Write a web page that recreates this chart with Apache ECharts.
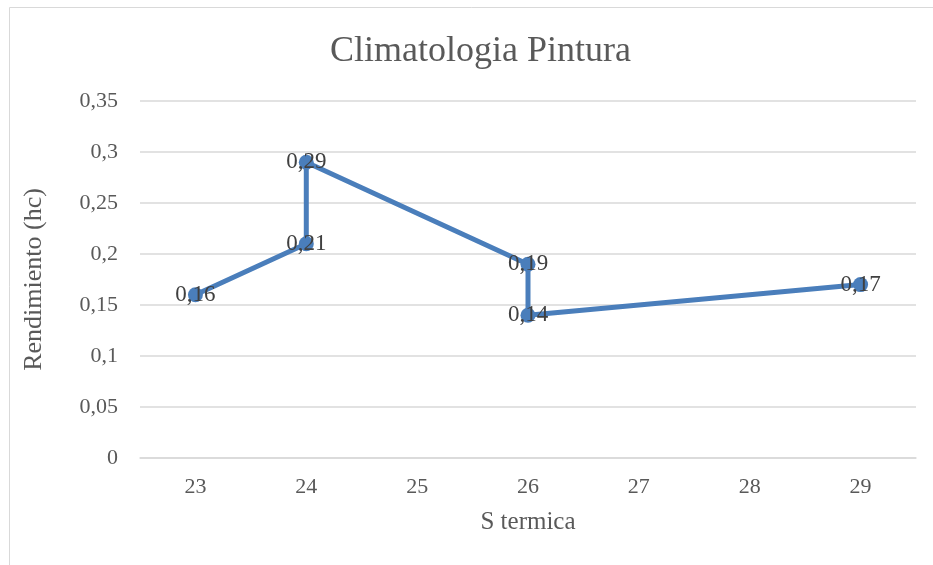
<!DOCTYPE html>
<html>
<head>
<meta charset="utf-8">
<script src="https://cdn.jsdelivr.net/npm/echarts@6/dist/echarts.min.js"></script>
<style>
 html,body{margin:0;padding:0;background:#fff;}
 #container{width:933px;height:565px;}
</style>
</head>
<body>
<div id="container"></div>
<script>
 var categories=['23','24','25','26','27','28','29'];
 var xvals=['23','24','24','26','26','29'];
 var yvals=[0.16,0.21,0.29,0.19,0.14,0.17];

 var coma=function(v){return String(v).replace('.',',');};
 var pts=xvals.map(function(x,i){return [x,yvals[i]];});

 var dom=document.getElementById("container");
 var myChart=echarts.init(dom);
 var option={
	backgroundColor:'#fff',
	textStyle:{fontFamily:'"Liberation Serif", serif'},
	title:{
		text:'Climatologia Pintura',left:325,top:29,
		textStyle:{fontFamily:'"Liberation Serif", serif',fontSize:36,fontWeight:'normal',color:'#595959'}
	},
	graphic:[{type:'rect',shape:{x:9.5,y:7.5,width:1000,height:1000},style:{fill:'none',stroke:'#d9d9d9',lineWidth:1},silent:true}],
	grid:{left:140,right:17,top:101,bottom:107},
	xAxis:{
		type:'category',data:categories,boundaryGap:true,
		name:'S termica',nameLocation:'middle',nameGap:52,
		nameTextStyle:{fontSize:25,color:'#595959',fontFamily:'"Liberation Serif", serif'},
		axisLine:{lineStyle:{color:'#d9d9d9',width:1.5}},
		axisTick:{show:false},
		axisLabel:{fontSize:22,color:'#595959',margin:18,fontFamily:'"Liberation Serif", serif'}
	},
	yAxis:{
		type:'value',min:0,max:0.35,interval:0.05,
		name:'Rendimiento (hc)',nameLocation:'middle',nameGap:93,nameRotate:90,
		nameTextStyle:{fontSize:26,color:'#595959',fontFamily:'"Liberation Serif", serif'},
		axisLine:{show:false},axisTick:{show:false},
		splitLine:{lineStyle:{color:'#d9d9d9',width:1.5}},
		axisLabel:{fontSize:22,color:'#595959',margin:22,formatter:coma,fontFamily:'"Liberation Serif", serif'}
	},
	series:[{
		type:'line',data:pts,
		symbol:'circle',symbolSize:15,
		itemStyle:{color:'#4a7ebb'},
		lineStyle:{color:'#4a7ebb',width:5},
		label:{show:true,position:'inside',fontSize:23,color:'#404040',
			fontFamily:'"Liberation Serif", serif',
			formatter:function(p){return coma(p.value[1]);}},
		animation:false
	}]
 };
 myChart.setOption(option,true);
</script>
</body>
</html>
